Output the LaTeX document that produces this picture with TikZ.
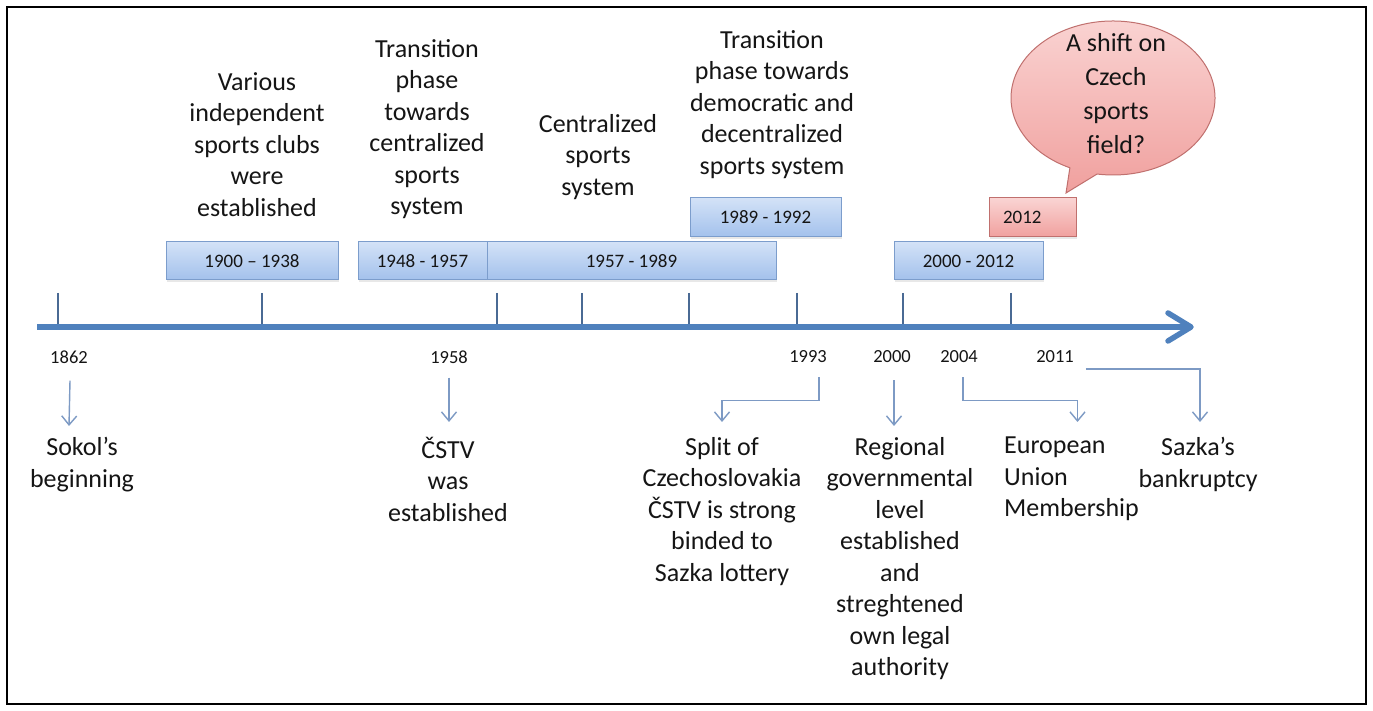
\documentclass[tikz,border=0pt]{standalone}
\usepackage{fontspec}
\setmainfont{Carlito}
\usetikzlibrary{arrows.meta,shadows}
\definecolor{axisblue}{HTML}{4F81BD}
\definecolor{tickblue}{HTML}{4A6A94}
\definecolor{connblue}{HTML}{7D9AC4}
\definecolor{boxtop}{HTML}{D3E2F7}
\definecolor{boxbot}{HTML}{A3C1EC}
\definecolor{boxedge}{HTML}{7C9DCC}
\definecolor{redtop}{HTML}{FAD4D3}
\definecolor{redbot}{HTML}{F0A09E}
\definecolor{rededge}{HTML}{C0706E}
\definecolor{txt}{HTML}{151515}
\begin{document}
\begin{tikzpicture}[x=1pt,y=1pt,
  bigtext/.style={font=\fontsize{26}{31.5}\selectfont, text=txt, align=center, inner sep=0pt, anchor=north},
  yearlbl/.style={font=\fontsize{18.5}{22}\selectfont, text=txt, inner sep=0pt},
  periodbox/.style={draw=boxedge, line width=1pt, top color=boxtop, bottom color=boxbot,
    font=\fontsize{19}{22}\selectfont, text=txt, inner sep=0pt,
    drop shadow={opacity=0.18, shadow xshift=1pt, shadow yshift=-2pt}},
  redbox/.style={periodbox, draw=rededge, top color=redtop, bottom color=redbot},
  tickline/.style={draw=tickblue, line width=1.8pt},
  conn/.style={draw=connblue, line width=1.4pt, -{Straight Barb[length=9pt,width=15pt]}},
]
\useasboundingbox[fill=white] (0,0) rectangle (1373,711);
\draw[line width=2pt] (7,7) rectangle (1366,704);

% ticks
\foreach \tx in {58,262,497,582,689,797,903,1011}
  \draw[tickline] (\tx,418) -- (\tx,384);
% axis
\draw[draw=axisblue, line width=6pt] (37,384) -- (1186,384);
\draw[draw=axisblue, line width=5.5pt, line cap=round, line join=round] (1168,398) -- (1191,384) -- (1168,370);

% period boxes
\node[periodbox, minimum width=172pt, minimum height=38pt] (p1900) at (252,450) {1900 – 1938};
\node[periodbox, minimum width=129pt, minimum height=38pt] (p1948) at (422.5,450) {1948 - 1957};
\node[periodbox, minimum width=289pt, minimum height=38pt] (p1957) at (631.5,450) {1957 - 1989};
\node[periodbox, minimum width=151pt, minimum height=39pt] (p1989) at (765.5,493.5) {1989 - 1992};
\node[periodbox, minimum width=149pt, minimum height=38pt] (p2000) at (968.5,450) {2000 - 2012};
\node[redbox, minimum height=39pt, text width=59pt, inner xsep=14pt, align=left] (p2012) at (1032.5,493.5) {2012};

% texts above
\node[bigtext] (tVarious) at (257,639) {Various\\independent\\sports clubs\\were\\established};
\node[bigtext] (tTrans1) at (427,672) {Transition\\phase\\towards\\centralized\\sports\\system};
\node[bigtext] (tCentral) at (598,597) {Centralized\\sports\\system};
\node[bigtext] (tTrans2) at (772,681) {Transition\\phase towards\\democratic and\\decentralized\\sports system};

% speech bubble
\draw[draw=rededge, line width=1pt, top color=redtop, bottom color=redbot]
  (1113,613) ++(261:102 and 77)
  arc[start angle=261, end angle=605, x radius=102, y radius=77]
  -- (1066,518) -- cycle;
\node[bigtext, font=\fontsize{26}{34}\selectfont] (tShift) at (1116,678) {A shift on\\Czech\\sports\\field?};

% year labels below
\node[yearlbl] (y1862) at (69,354) {1862};
\node[yearlbl] (y1958) at (449,354) {1958};
\node[yearlbl] (y1993) at (808,354) {1993};
\node[yearlbl] (y2000) at (892,354) {2000};
\node[yearlbl] (y2004) at (959,354) {2004};
\node[yearlbl] (y2011) at (1055,354) {2011};

% events below
\node[bigtext] (e1862) at (82,274) {Sokol’s\\beginning};
\node[bigtext] (e1958) at (448,274) {ČSTV\\was\\established};
\node[bigtext] (e1993) at (722,274) {Split of\\Czechoslovakia\\ČSTV is strong\\binded to\\Sazka lottery};
\node[bigtext] (e2000) at (900,274) {Regional\\governmental\\level\\established\\and\\streghtened\\own legal\\authority};
\node[bigtext, anchor=north west, align=left] (e2004) at (1004,274) {European\\Union\\Membership};
\node[bigtext] (e2011) at (1198,274) {Sazka’s\\bankruptcy};

% connectors
\draw[conn] ([xshift=1pt,yshift=-17pt]y1862.south) -- ([yshift=11pt]e1862.north -| y1862.south);
\draw[conn] ([yshift=-14pt]y1958.south) -- ([yshift=15pt]e1958.north -| y1958.south);
\draw[conn] ([xshift=2pt,yshift=-17pt]y2000.south) -- ([xshift=2pt,yshift=11pt]e2000.north -| y2000.south);
\draw[conn] ([xshift=11pt,yshift=-14pt]y1993.south) -- ++(0,-23) -| ([yshift=15pt]e1993.north);
\draw[conn] ([xshift=4pt,yshift=-14pt]y2004.south) -- ++(0,-23) -| ([xshift=6pt,yshift=15pt]e2004.north);
\draw[conn] ([xshift=12pt,yshift=-12pt]y2011.east) -| ([xshift=2pt,yshift=15pt]e2011.north);
\end{tikzpicture}
\end{document}
